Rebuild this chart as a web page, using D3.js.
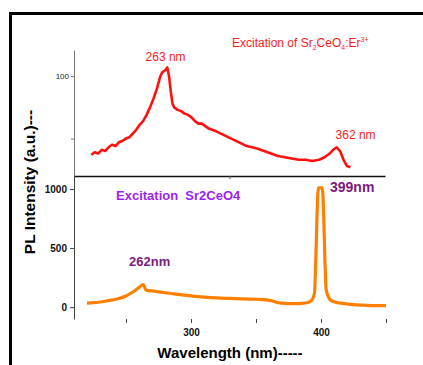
<!DOCTYPE html>
<html>
<head>
<meta charset="utf-8">
<script src="https://cdn.jsdelivr.net/npm/d3@7"></script>
<style>
  body { margin: 0; background: #fff; }
  text { font-family: "Liberation Sans", Arial, sans-serif; }
</style>
</head>
<body>
<div id="chart"></div>
<script>
// inset: excitation of Sr2CeO4:Er3+ (wavelength nm, intensity)
var erWave = [220,222,224,226,228,230,232,234,236,238,240,242,244,246,248,250,252,254,256,257,258,259,260,261,262,263,264,265,266,267,268,270,272,274,276,278,280,282,284,286,288,290,292,295,298,301,304,307,310,313,316,320,324,328,332,336,340,344,348,352,355,358,360,362,364,366,368,370];
var erValue = [37,39,38,41,40,43,45,44,47,48,50,51,54,57,61,64,69,75,82,86,90,95,100,103,104,105,107,100,88,78,75,73,72,70,69,67,64,62,62,60,58,57,56,54,52,50,48,46,44,43,42,40,38,36,35,34,33,33,32,33,35,38,41,43,40,33,28,27];
var insetXTicks = [300];
var insetYTicks = [50, 100];
var insetYLabels = ["", "100"];

// main: excitation Sr2CeO4
var ceWave = [220,225,230,235,240,245,250,254,258,261,263,264,265,267,270,275,280,290,300,310,320,330,340,350,358,362,366,370,375,380,385,390,393,395,396,397,398,401,402,403,404,406,408,412,418,425,435,445,450];
var ceValue = [35,38,44,52,62,75,95,120,150,175,192,180,150,140,138,130,122,108,95,85,78,74,70,67,62,55,40,34,30,30,32,40,60,120,400,800,1010,1010,800,400,150,80,55,40,30,22,16,13,12];
var mainXTicks = [250, 300, 350, 400, 450];
var mainXLabels = ["", "300", "", "400", ""];
var mainYTicks = [0, 500, 1000];

var W = 423, H = 365;
var svg = d3.select("#chart").append("svg").attr("width", W).attr("height", H);

// frame
svg.append("path").attr("d", "M10.5,365 V13.5 H423")
    .attr("fill", "none").attr("stroke", "#000").attr("stroke-width", 3);

var axisLeftX = 74;

// ---- main panel
var x = d3.scaleLinear().domain([210, 450]).range([axisLeftX, 386]);
var y = d3.scaleLinear().domain([-100, 1110]).range([319, 176]);

var gy = svg.append("g").attr("transform", "translate(" + axisLeftX + ",0)")
    .call(d3.axisLeft(y).tickValues(mainYTicks).tickFormat(d3.format("d"))
        .tickSize(4).tickPadding(3).tickSizeOuter(0));
gy.select(".domain").attr("stroke", "#444");
gy.selectAll(".tick line").attr("stroke", "#444");
gy.selectAll(".tick text").attr("font-size", 10).attr("font-weight", "bold").attr("fill", "#111")
    .style("font-family", "'Liberation Sans', Arial, sans-serif");

var gx = svg.append("g").attr("transform", "translate(0,319)")
    .call(d3.axisBottom(x).tickValues(mainXTicks).tickFormat(function (d, i) { return mainXLabels[i]; })
        .tickSize(4).tickPadding(6));
gx.select(".domain").remove();
gx.selectAll(".tick line").attr("stroke", "#444");
gx.selectAll(".tick text").attr("font-size", 10).attr("font-weight", "bold").attr("fill", "#111")
    .style("font-family", "'Liberation Sans', Arial, sans-serif");

var ceData = ceWave.map(function (w, i) { return [w, ceValue[i]]; });
svg.append("path").datum(ceData)
    .attr("fill", "none").attr("stroke", "#ff7f00").attr("stroke-width", 3.2)
    .attr("stroke-linejoin", "round")
    .attr("d", d3.line().x(function (d) { return x(d[0]); }).y(function (d) { return y(d[1]); })
        .curve(d3.curveMonotoneX));

// ---- inset panel
var xi = d3.scaleLinear().domain([210, 390]).range([axisLeftX, 385]);
var yi = d3.scaleLinear().domain([20, 121]).range([176, 50]);

var giy = svg.append("g").attr("transform", "translate(" + axisLeftX + ",0)")
    .call(d3.axisLeft(yi).tickValues(insetYTicks).tickFormat(function (d, i) { return insetYLabels[i]; })
        .tickSize(3).tickPadding(2).tickSizeOuter(0));
giy.select(".domain").attr("stroke", "#777");
giy.selectAll(".tick line").attr("stroke", "#777");
giy.selectAll(".tick text").attr("font-size", 8).attr("fill", "#222")
    .style("font-family", "'Liberation Sans', Arial, sans-serif");

var gix = svg.append("g").attr("transform", "translate(0,176)")
    .call(d3.axisBottom(xi).tickValues(insetXTicks).tickFormat("").tickSize(3).tickSizeOuter(0));
gix.select(".domain").attr("stroke", "#111").attr("stroke-width", 1.3);
gix.selectAll(".tick line").attr("stroke", "#555");

var erData = erWave.map(function (w, i) { return [w, erValue[i]]; });
svg.append("path").datum(erData)
    .attr("fill", "none").attr("stroke", "#ff1010").attr("stroke-width", 2.6)
    .attr("stroke-linejoin", "round")
    .attr("d", d3.line().x(function (d) { return xi(d[0]); }).y(function (d) { return yi(d[1]); }));

// ---- annotations
var t = svg.append("text").attr("x", 232).attr("y", 47).attr("font-size", 12).attr("fill", "#ff1a1a");
t.append("tspan").text("Excitation of Sr");
t.append("tspan").attr("font-size", 7).attr("dy", 3).text("2");
t.append("tspan").attr("dy", -3).text("CeO");
t.append("tspan").attr("font-size", 7).attr("dy", 3).text("4");
t.append("tspan").attr("dy", -3).text(":Er");
t.append("tspan").attr("font-size", 7).attr("dy", -5).text("3+");

svg.append("text").attr("x", xi(263)).attr("y", 61).attr("text-anchor", "middle")
    .attr("font-size", 12).attr("fill", "#ff1a1a").text("263 nm");
svg.append("text").attr("x", xi(362) + 19).attr("y", 139).attr("text-anchor", "middle")
    .attr("font-size", 12).attr("fill", "#ff1a1a").text("362 nm");

svg.append("text").attr("x", 116).attr("y", 200).attr("font-size", 13).attr("font-weight", "bold")
    .attr("fill", "#9b24f5").attr("xml:space", "preserve").text("Excitation  Sr2CeO4");
svg.append("text").attr("x", 330).attr("y", 192).attr("font-size", 14).attr("font-weight", "bold")
    .attr("fill", "#7d1a80").text("399nm");
svg.append("text").attr("x", 129).attr("y", 266).attr("font-size", 13).attr("font-weight", "bold")
    .attr("fill", "#7d1a80").text("262nm");

svg.append("text").attr("transform", "translate(35,182) rotate(-90)").attr("text-anchor", "middle")
    .attr("font-size", 15.5).attr("font-weight", "bold").attr("fill", "#000").text("PL Intensity (a.u.)---");
svg.append("text").attr("x", 230).attr("y", 358).attr("text-anchor", "middle")
    .attr("font-size", 15).attr("font-weight", "bold").attr("fill", "#000").text("Wavelength (nm)-----");
</script>
</body>
</html>
